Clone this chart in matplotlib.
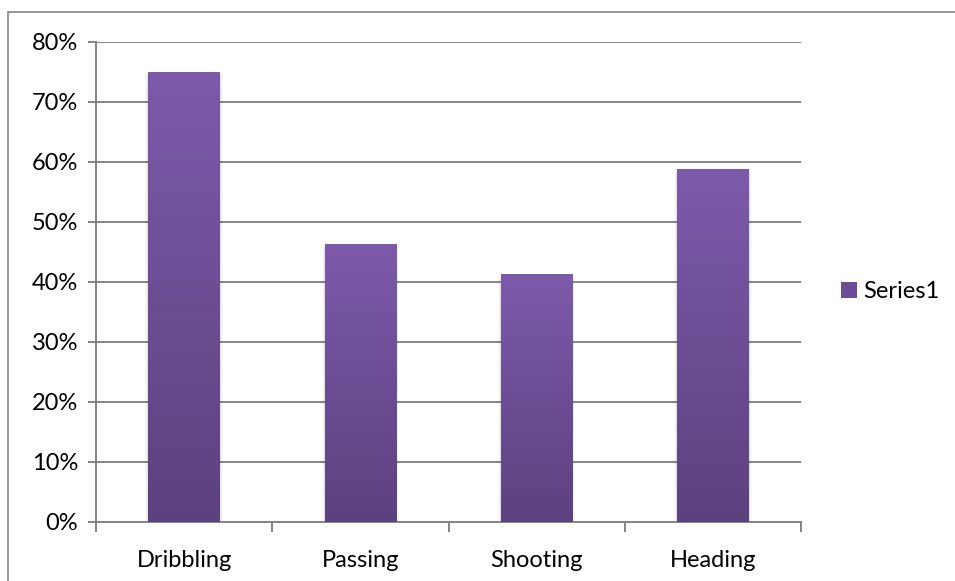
import numpy as np
import matplotlib
matplotlib.use("Agg")
import matplotlib.pyplot as plt
from matplotlib.patches import Rectangle
from matplotlib.colors import LinearSegmentedColormap
from matplotlib.legend_handler import HandlerBase
from matplotlib.ticker import FixedLocator, FuncFormatter

categories = ["Dribbling", "Passing", "Shooting", "Heading"]
values = [0.75, 0.463, 0.413, 0.588]
series_name = "Series1"
y_ticks = [0, 0.1, 0.2, 0.3, 0.4, 0.5, 0.6, 0.7, 0.8]

plt.rcParams["font.family"] = ["Lato", "DejaVu Sans"]

TOP = "#7D5AAA"
BOTTOM = "#5C417F"
GRID = "#858585"
FS = 17
cmap = LinearSegmentedColormap.from_list("barfade", [BOTTOM, TOP])
grad = np.linspace(0, 1, 256).reshape(-1, 1)

fig = plt.figure(figsize=(9.55, 5.81), dpi=100)
ax = fig.add_axes([96 / 955, 59 / 581, 705 / 955, 480 / 581])

x = np.arange(len(categories))
bars = ax.bar(x, values, width=0.405, color="none", edgecolor="none", zorder=3)
for b in bars:
    x0, y0 = b.get_x(), b.get_y()
    w, h = b.get_width(), b.get_height()
    # soft shadow along the sides of each bar
    for k, a in enumerate([0.05, 0.035, 0.02]):
        d = 0.006 * (k + 1)
        ax.add_patch(Rectangle((x0 - d, y0), w + 2 * d, h - 0.004,
                               facecolor="black", alpha=a, edgecolor="none", zorder=2.5))
    ax.imshow(grad, cmap=cmap, origin="lower", aspect="auto",
              extent=(x0, x0 + w, y0, y0 + h), zorder=3, interpolation="bilinear")

ax.set_xlim(-0.5, len(categories) - 0.5)
ax.set_ylim(0, 0.8)

ax.yaxis.set_major_locator(FixedLocator(y_ticks))
ax.yaxis.set_major_formatter(FuncFormatter(lambda v, p: f"{v * 100:.0f}%"))
ax.grid(axis="y", color=GRID, linewidth=1.4, zorder=1)
ax.set_axisbelow(True)

ax.xaxis.set_major_locator(FixedLocator(np.arange(-0.5, len(categories), 1.0)))
ax.xaxis.set_major_formatter(FuncFormatter(lambda v, p: ""))
ax.xaxis.set_minor_locator(FixedLocator(x))
ax.set_xticklabels(categories, minor=True)
ax.tick_params(axis="x", which="minor", length=0, pad=20, labelsize=FS)
ax.tick_params(axis="x", which="major", length=7, width=1.4, color=GRID)
ax.tick_params(axis="y", length=6, width=1.4, color=GRID, pad=7, labelsize=FS)

for s in ["top", "right"]:
    ax.spines[s].set_visible(False)
for s in ["left", "bottom"]:
    ax.spines[s].set_color(GRID)
    ax.spines[s].set_linewidth(1.4)


class GradientHandle(HandlerBase):
    def create_artists(self, legend, orig_handle, xdescent, ydescent,
                       width, height, fontsize, trans):
        size = min(width, height) * 0.95
        r = Rectangle((width - size - xdescent, -ydescent), size, size,
                      facecolor=orig_handle.get_facecolor(), edgecolor="none",
                      transform=trans)
        return [r]


handle = Rectangle((0, 0), 1, 1, facecolor="#6D4E96")
fig.legend([handle], [series_name], handler_map={Rectangle: GradientHandle()},
           loc="center left", bbox_to_anchor=(824 / 955, 1 - 291 / 581),
           frameon=False, fontsize=FS, handlelength=0.9, handletextpad=0.25,
           borderpad=0)

# outer chart frame
fig.add_artist(Rectangle((8 / 955, -0.01), 1.0, 1 - 12 / 581 + 0.01,
                         transform=fig.transFigure, fill=False,
                         edgecolor=GRID, linewidth=1.2))

fig.savefig("out.png", dpi=100)
